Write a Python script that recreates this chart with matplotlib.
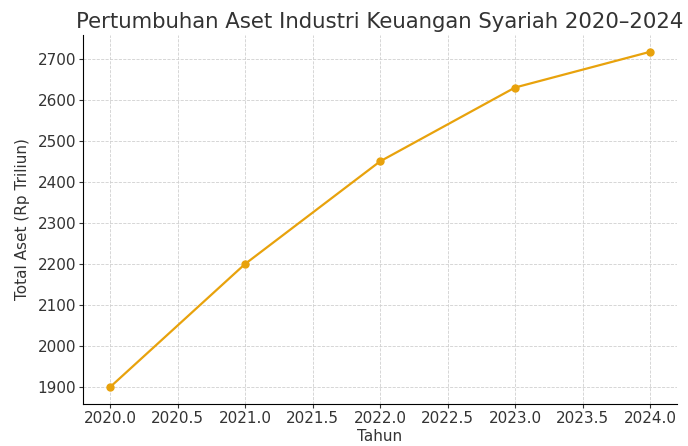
import matplotlib
matplotlib.use("Agg")
import matplotlib.pyplot as plt

years = [2020, 2021, 2022, 2023, 2024]
assets = [1900, 2200, 2450, 2630, 2717]

fig = plt.figure(figsize=(6.88, 4.46), dpi=100)
ax = fig.add_axes([83/688, 1-404/446, (677-83)/688, (404-35)/446])
ax.plot(years, assets, marker='o', color='#E8A20C', linewidth=1.6, markersize=5)
ax.set_title("Pertumbuhan Aset Industri Keuangan Syariah 2020–2024", fontsize=15.3, color='#333333', pad=5)
ax.set_xlabel("Tahun", fontsize=11, color='#333333', labelpad=2)
ax.set_ylabel("Total Aset (Rp Triliun)", fontsize=11, color='#333333', labelpad=5)
ax.grid(True, linestyle='--', color='#d0d0d0', linewidth=0.6)
ax.set_axisbelow(True)
for s in ['top', 'right']:
    ax.spines[s].set_visible(False)
ax.tick_params(labelsize=11, colors='#333333', length=3, pad=2)
ax.set_xlim(2019.8, 2024.2)
ax.set_ylim(1859, 2758)
fig.savefig("out.png", dpi=100)
